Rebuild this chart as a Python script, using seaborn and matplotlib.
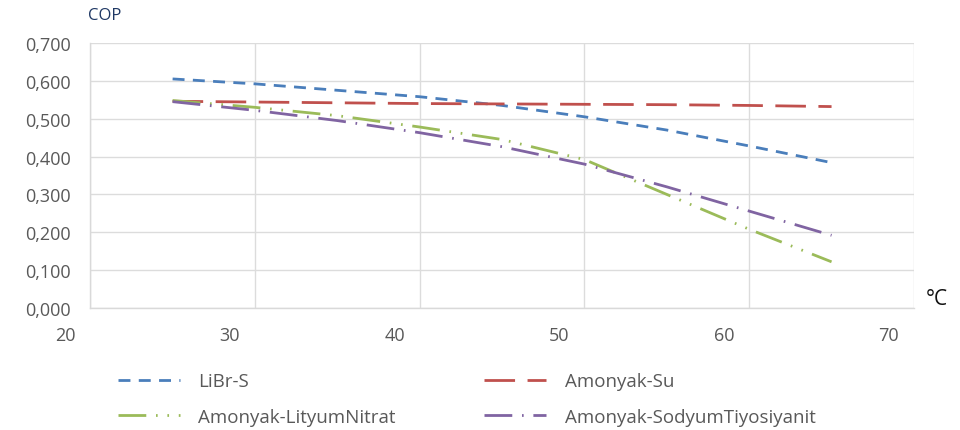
import pandas as pd
import seaborn as sns
import matplotlib.pyplot as plt
import matplotlib.transforms as mtransforms

# values
temps = [25, 30, 35, 40, 45, 50, 55, 60, 65]
libr_s = [0.605, 0.592, 0.575, 0.558, 0.535, 0.505, 0.470, 0.428, 0.384]
amonyak_su = [0.546, 0.544, 0.542, 0.540, 0.539, 0.538, 0.537, 0.535, 0.532]
amonyak_lityum = [0.548, 0.530, 0.508, 0.478, 0.445, 0.392, 0.300, 0.208, 0.122]
amonyak_sodyum = [0.545, 0.522, 0.495, 0.463, 0.426, 0.380, 0.320, 0.256, 0.192]

names = ["LiBr-S", "Amonyak-Su", "Amonyak-LityumNitrat", "Amonyak-SodyumTiyosiyanit"]
series = [libr_s, amonyak_su, amonyak_lityum, amonyak_sodyum]

df = pd.DataFrame({
    "temp": temps * len(names),
    "cop": [v for s in series for v in s],
    "fluid": [n for n in names for _ in temps],
})

colors = {"LiBr-S": "#4a7ebb", "Amonyak-Su": "#c0504d",
          "Amonyak-LityumNitrat": "#9bbb59", "Amonyak-SodyumTiyosiyanit": "#8064a2"}
dashes = {"LiBr-S": (4.3, 3.0), "Amonyak-Su": (11, 4.5),
          "Amonyak-LityumNitrat": (10, 3.5, 0.6, 3.5, 0.6, 3.5),
          "Amonyak-SodyumTiyosiyanit": (10, 3.5, 0.6, 3.5)}

sns.set_style("white")
plt.rcParams['font.family'] = ['Open Sans', 'DejaVu Sans']

fig = plt.figure(figsize=(9.6, 4.31), dpi=100)
ax = fig.add_axes([0.094, 0.283, 0.858, 0.615])

sns.lineplot(data=df, x="temp", y="cop", hue="fluid", style="fluid",
             palette=colors, dashes=dashes, hue_order=names, style_order=names,
             linewidth=2.0, ax=ax, legend=False)

ax.set_xlim(20, 70)
ax.set_ylim(0, 0.7)
ax.set_xticks(range(20, 71, 10))
ax.set_yticks([i / 10 for i in range(8)])
ax.set_yticklabels([f"{i / 10:.3f}".replace(".", ",") for i in range(8)])
ax.grid(True, color="#dcdcdc", linewidth=1.0)
ax.set_axisbelow(True)
for side in ["top", "right"]:
    ax.spines[side].set_visible(False)
for side in ["left", "bottom"]:
    ax.spines[side].set_color("#d9d9d9")
    ax.spines[side].set_linewidth(1.0)
ax.tick_params(colors="#595959", labelsize=13, length=0)
ax.tick_params(axis="y", pad=14)
ax.tick_params(axis="x", pad=13)
ax.set_xlabel("")
ax.set_ylabel("")

# x labels sit a little left of the gridlines in the original
offset = mtransforms.ScaledTranslation(-0.25, 0, fig.dpi_scale_trans)
for lbl in ax.get_xticklabels():
    lbl.set_transform(lbl.get_transform() + offset)

fig.text(0.109, 0.962, "COP", fontsize=12, color="#1f3864", ha="center", va="center")
fig.text(0.976, 0.305, "°C", fontsize=15, color="#111111", ha="center", va="center")

# legend is filled column by column, so order it to read row by row
order = [0, 2, 1, 3]
handles = [plt.Line2D([], [], color=colors[names[i]], linewidth=2.0, dashes=dashes[names[i]])
           for i in order]
fig.legend(handles, [names[i] for i in order], loc="lower left",
           bbox_to_anchor=(0.105, -0.03), ncol=2,
           frameon=False, fontsize=13.5, labelcolor="#595959", handlelength=3.3,
           columnspacing=4.7, handletextpad=1.0, labelspacing=0.95)

fig.savefig("out.png", dpi=100)
